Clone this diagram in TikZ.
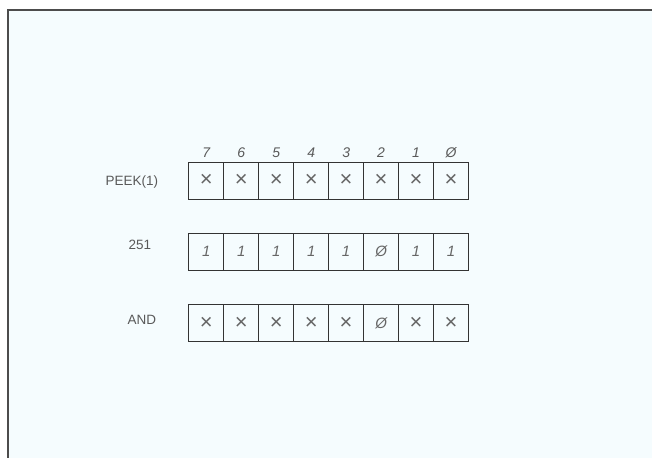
\documentclass[tikz,border=0pt]{standalone}
\usepackage{fontspec}
\setmainfont{Liberation Sans}
\begin{document}
\begin{tikzpicture}[x=1pt,y=-1pt,
  cell/.style={draw=black!80,line width=0.9pt,minimum width=35pt,minimum height=37pt,inner sep=0pt,anchor=center,text=black!60,font=\fontsize{15}{15}\selectfont\itshape},
  crs/.style={cell,font=\fontsize{22}{22}\selectfont},
  lbl/.style={text=black!65,font=\fontsize{13.5}{13.5}\selectfont,inner sep=0pt},
  bit/.style={text=black!65,font=\fontsize{14}{14}\selectfont\itshape,inner sep=0pt}]
\fill[white] (0,0) rectangle (653,458);
\fill[cyan!4!white] (8,10) rectangle (653,458);
\draw[black!70,line width=1.3pt] (8,458) -- (8,10) -- (653,10);
\useasboundingbox (0,0) rectangle (653,458);
% labels
\node[lbl] (l1) at (132,182) {PEEK(1)};
\node[lbl] (l2) at (140,245) {251};
\node[lbl] (l3) at (142,320) {AND};
% bit numbers
\foreach \b [count=\i from 0] in {7,6,5,4,3,2,1,\O} {
  \node[bit] (h\i) at (206.5+35*\i,153) {\b};
}
% row 1
\foreach \i in {0,...,7} {
  \node[crs] (a\i) at (206.5+35*\i,181) {\texttimes};
}
% row 2
\foreach \v [count=\i from 0] in {1,1,1,1,1,\O,1,1} {
  \node[cell] (b\i) at (206.5+35*\i,252) {\v};
}
% row 3
\foreach \i in {0,1,2,3,4,6,7} {
  \node[crs] (c\i) at (206.5+35*\i,323.5) {\texttimes};
}
\node[cell] (c5) at (206.5+35*5,323.5) {\O};
\end{tikzpicture}
\end{document}
